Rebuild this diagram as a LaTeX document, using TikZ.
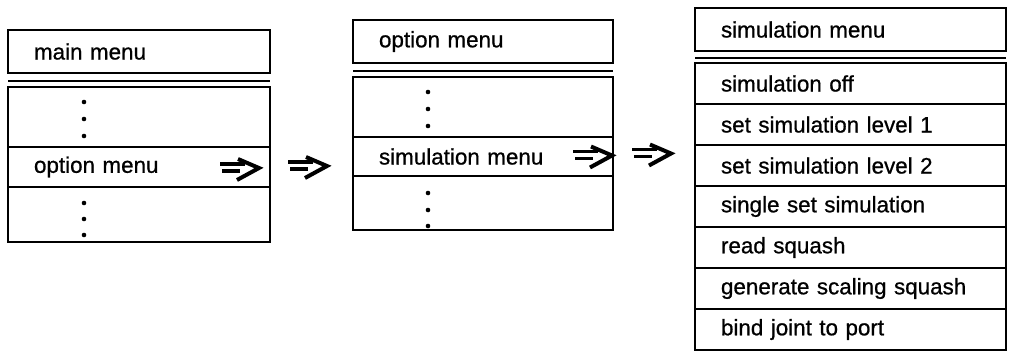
\documentclass[tikz,border=0pt]{standalone}
\usepackage{fontspec}
\setmainfont{Liberation Sans}
\newfontfamily\menufont[FakeBold=0.8]{Liberation Sans}
\usetikzlibrary{calc}
\tikzset{
  menubox/.style={draw, line width=2.4pt, anchor=north west, outer sep=0pt,
    inner xsep=26pt, inner ysep=0pt, align=left,
    font=\menufont\fontsize{22.4}{26}\selectfont},
  sepline/.style={line width=2.6pt},
  dotmark/.style={fill=black, draw=none},
  arrowline/.style={line width=3.8pt, line cap=butt, line join=miter},
  dblarrow/.pic={
    \draw[arrowline] (0,4) -- (25,4);
    \draw[arrowline] (2,-3) -- (20,-3);
    \draw[arrowline, line width=4pt] (18,9) -- (39,0) -- (17,-12);
  }
}
\begin{document}
\begin{tikzpicture}[x=1pt,y=1pt]
\useasboundingbox (0,0) rectangle (1011,-360);
% ---------- left column ----------
\node[menubox, text width=210pt, minimum height=43pt] (Ltitle) at (8,-30) {main menu};
\draw[sepline] ($(Ltitle.south west)+(0,-8)$) -- ($(Ltitle.south east)+(0,-8)$);
\node[menubox, text width=210pt, minimum height=60pt] (L1) at (8,-87) {};
\node[menubox, text width=210pt, minimum height=40pt] (L2) at (L1.south west) {option menu};
\node[menubox, text width=210pt, minimum height=55pt] (L3) at (L2.south west) {};
\foreach \yy in {102,119,136,203,219,235} \fill[dotmark] (84,-\yy) circle (2.3);
\pic at ($(L2.east)+(-50,-1)$) {dblarrow};
% ---------- middle column ----------
\node[menubox, text width=208pt, minimum height=43pt] (Mtitle) at (353,-20) {option menu};
\draw[sepline] ($(Mtitle.south west)+(0,-8)$) -- ($(Mtitle.south east)+(0,-8)$);
\node[menubox, text width=208pt, minimum height=60pt] (M1) at (353,-77) {};
\node[menubox, text width=208pt, minimum height=39pt] (M2) at (M1.south west) {simulation menu};
\node[menubox, text width=208pt, minimum height=54pt] (M3) at (M2.south west) {};
\foreach \yy in {92,109,126,193,210,226} \fill[dotmark] (428,-\yy) circle (2.3);
\pic at ($(M2.east)+(-40,1)$) {dblarrow};
% arrow between left and middle
\pic at ($(L2.east)+(18,1)$) {dblarrow};
% ---------- right column ----------
\node[menubox, text width=259pt, minimum height=43pt] (Rtitle) at (695,-8) {simulation menu};
\draw[sepline] ($(Rtitle.south west)+(0,-7)$) -- ($(Rtitle.south east)+(0,-7)$);
\node[menubox, text width=259pt, minimum height=41pt] (R1) at (695,-63) {simulation off};
\node[menubox, text width=259pt, minimum height=41pt] (R2) at (R1.south west) {set simulation level 1};
\node[menubox, text width=259pt, minimum height=41pt] (R3) at (R2.south west) {set simulation level 2};
\node[menubox, text width=259pt, minimum height=41pt] (R4) at (R3.south west) {single set simulation};
\node[menubox, text width=259pt, minimum height=41pt] (R5) at (R4.south west) {read squash};
\node[menubox, text width=259pt, minimum height=41pt] (R6) at (R5.south west) {generate scaling squash};
\node[menubox, text width=259pt, minimum height=41pt] (R7) at (R6.south west) {bind joint to port};
% arrow between middle and right
\pic at ($(M2.east)+(19,3)$) {dblarrow};
\end{tikzpicture}
\end{document}
